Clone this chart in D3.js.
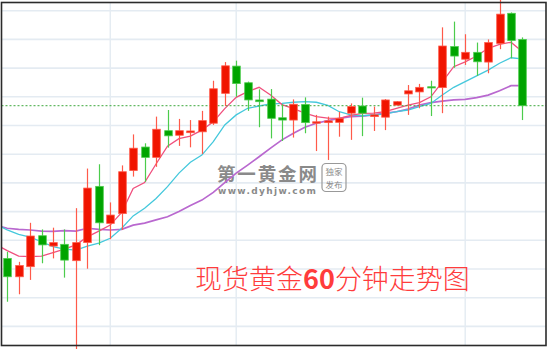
<!DOCTYPE html>
<html>
<head>
<meta charset="utf-8">
<script src="https://d3js.org/d3.v7.min.js"></script>
<style>
  body { margin: 0; background: #fff; }
</style>
</head>
<body>
<script type="text/javascript">
  "use strict";

  // 60 minute candles, oldest first: open, high, low, close
  var opens  = [1213.7,1207.3,1210.8,1221.6,1218.0,1218.6,1212.9,1219.2,1238.8,1225.9,
                1229.3,1244.3,1252.5,1248.9,1258.2,1256.6,1257.5,1257.8,1260.8,1271.2,
                1280.7,1274.9,1268.9,1269.2,1262.7,1261.9,1267.3,1260.8,1261.0,1261.1,
                1264.3,1266.8,1263.1,1262.9,1267.1,1271.0,1271.7,1273.5,1273.2,1287.5,
                1283.1,1285.5,1282.1,1288.6,1299.1,1290.0];
  var highs  = [1216.0,1212.5,1226.1,1223.8,1224.4,1223.8,1231.2,1245.0,1246.5,1233.2,
                1246.1,1256.9,1253.8,1263.1,1265.4,1262.3,1261.9,1265.1,1275.6,1282.1,
                1282.6,1275.3,1272.6,1272.7,1267.4,1269.1,1269.8,1263.7,1263.1,1264.8,
                1267.7,1269.7,1266.6,1269.2,1268.5,1274.1,1274.5,1275.6,1294.2,1296.2,
                1291.8,1288.9,1290.0,1304.1,1299.4,1290.7];
  var lows   = [1198.6,1201.2,1206.2,1212.0,1213.7,1207.0,1181.5,1210.1,1218.3,1220.4,
                1223.6,1242.2,1240.4,1245.6,1252.3,1252.9,1252.4,1250.1,1260.2,1266.8,
                1270.0,1265.1,1259.4,1255.5,1254.6,1255.8,1257.3,1251.1,1248.0,1256.1,
                1255.0,1256.3,1258.1,1258.4,1267.0,1263.7,1266.0,1263.3,1264.3,1280.1,
                1281.1,1277.3,1278.2,1286.6,1283.4,1261.9];
  var closes = [1207.3,1211.2,1221.5,1218.4,1219.2,1213.1,1219.2,1238.2,1226.1,1228.8,
                1243.9,1252.1,1248.9,1258.7,1256.4,1258.2,1258.1,1261.7,1272.8,1280.8,
                1274.6,1268.9,1268.3,1262.5,1261.9,1267.4,1261.0,1261.3,1261.6,1262.5,
                1266.6,1264.3,1263.7,1268.9,1268.3,1272.1,1273.3,1273.1,1287.7,1284.2,
                1285.5,1282.2,1288.9,1298.8,1289.6,1266.9];

  // moving averages, first value belongs to the bar before the first candle
  var ma5  = [1218.6,1216.4,1214.5,1214.3,1214.5,1215.7,1216.9,1218.4,1221.2,1223.2,1225.3,
              1229.7,1238.1,1240.1,1246.6,1252.8,1255.4,1256.3,1258.4,1261.3,1265.9,
              1269.8,1271.8,1273.3,1270.6,1267.3,1265.9,1264.3,1263.1,1262.6,1262.5,
              1263.5,1264.2,1264.3,1264.8,1266.0,1267.1,1268.0,1270.0,1275.2,1280.5,
              1282.2,1284.2,1286.9,1288.3,1289.0,1285.7];
  var ma10 = [1225.7,1223.6,1222.1,1221.1,1219.5,1217.8,1216.9,1216.6,1218.0,1219.0,1220.7,
              1224.2,1228.5,1231.2,1234.6,1238.7,1243.4,1247.2,1249.7,1254.4,1260.2,
              1263.7,1266.0,1266.8,1267.5,1267.7,1268.1,1268.3,1268.1,1267.0,1264.8,
              1263.7,1263.4,1263.7,1264.0,1264.8,1265.4,1266.6,1267.7,1270.6,1273.3,
              1275.3,1277.3,1279.3,1281.7,1283.6,1283.2];
  var ma20 = [1225.2,1224.2,1223.8,1223.6,1223.2,1223.1,1223.4,1223.2,1224.2,1223.8,1223.6,
              1223.8,1225.3,1226.0,1227.1,1228.2,1230.0,1232.1,1234.0,1236.7,1240.1,
              1243.4,1246.2,1249.1,1252.1,1255.0,1257.3,1259.4,1260.8,1261.7,1262.5,
              1263.1,1263.3,1263.7,1264.3,1264.8,1265.7,1267.1,1268.0,1268.5,1268.9,
              1269.1,1269.7,1270.6,1272.1,1273.9,1273.9];

  var priceLines = [1300,1290,1280,1270,1260,1250,1240,1230,1220,1210,1200,1190];
  var dayBreaks  = [9, 20, 40];   // candle index where a new session starts

  var width = 550, height = 349;
  var RED = "#f01400", RED_EDGE = "#ff5a4a", GREEN = "#00a400", GREEN_EDGE = "#4ccc4c";

  var svg = d3.select("body").append("svg")
      .attr("width", width)
      .attr("height", height);

  var x = d3.scaleLinear().domain([0, opens.length - 1]).range([7.2, 522.45]);
  var y = d3.scaleLinear().domain([1182.13, 1303.73]).range([349, 0]);

  svg.append("defs").append("clipPath").attr("id", "plot")
    .append("rect").attr("x", 1.5).attr("y", 2.5).attr("width", 544.5).attr("height", 343);

  /* grid */
  var grid = svg.append("g").attr("stroke", "#e4ebf2");
  grid.selectAll(".h").data(priceLines).enter().append("line")
      .attr("x1", 1.5).attr("x2", 546)
      .attr("y1", function(d) { return y(d); })
      .attr("y2", function(d) { return y(d); })
      .attr("stroke-width", 1.6);
  grid.selectAll(".v").data(dayBreaks).enter().append("line")
      .attr("y1", 2.5).attr("y2", 345.5)
      .attr("x1", function(d) { return x(d); })
      .attr("x2", function(d) { return x(d); })
      .attr("stroke-width", 1.4);

  /* watermark */
  var wm = svg.append("g").attr("fill", "#8a8a8a");
  wm.append("text")
      .attr("x", 217).attr("y", 180.5)
      .style("font-family", "'Noto Sans CJK SC'")
      .style("font-weight", "bold")
      .style("font-size", "18.5px")
      .attr("textLength", 100)
      .text("第一黄金网");
  wm.append("text")
      .attr("x", 218).attr("y", 194.3)
      .style("font-family", "'DejaVu Sans'")
      .style("font-weight", "bold")
      .style("font-size", "9px")
      .attr("textLength", 98)
      .text("www.dyhjw.com");
  wm.append("rect")
      .attr("x", 322).attr("y", 163.5).attr("width", 24).attr("height", 28).attr("rx", 4)
      .attr("fill", "none").attr("stroke", "#999").attr("stroke-width", 1.2);
  wm.append("text")
      .attr("x", 334).attr("y", 175.3)
      .attr("text-anchor", "middle")
      .style("font-family", "'Noto Sans CJK SC'")
      .style("font-size", "8.5px")
      .text("独家");
  wm.append("text")
      .attr("x", 334).attr("y", 188)
      .attr("text-anchor", "middle")
      .style("font-family", "'Noto Sans CJK SC'")
      .style("font-size", "8.5px")
      .text("发布");

  /* moving averages */
  var lineGen = function(vals) {
    return d3.line()
      .x(function(d, i) { return x(i - 1); })
      .y(function(d) { return y(d); })(vals);
  };
  var maLayer = svg.append("g").attr("clip-path", "url(#plot)").attr("fill", "none");
  maLayer.append("path").attr("d", lineGen(ma20)).attr("stroke", "#b968cf").attr("stroke-width", 1.7);
  maLayer.append("path").attr("d", lineGen(ma10)).attr("stroke", "#45c8dc").attr("stroke-width", 1.3);
  maLayer.append("path").attr("d", lineGen(ma5)).attr("stroke", "#f0507e").attr("stroke-width", 1.3);

  /* current price */
  svg.append("line")
      .attr("x1", 1.5).attr("x2", 546)
      .attr("y1", y(closes[closes.length - 1]))
      .attr("y2", y(closes[closes.length - 1]))
      .attr("stroke", "#3aa83a")
      .attr("stroke-width", 1)
      .attr("stroke-dasharray", "2,2");

  /* candles */
  var bars = d3.range(opens.length).map(function(i) {
    return { i: i, o: opens[i], h: highs[i], l: lows[i], c: closes[i] };
  });
  var candle = svg.append("g").selectAll("g").data(bars).enter().append("g");
  candle.append("line")
      .attr("x1", function(d) { return Math.round(x(d.i)) + 0.5; })
      .attr("x2", function(d) { return Math.round(x(d.i)) + 0.5; })
      .attr("y1", function(d) { return y(d.h); })
      .attr("y2", function(d) { return y(d.l); })
      .attr("stroke", function(d) { return d.c >= d.o ? RED_EDGE : GREEN_EDGE; })
      .attr("stroke-width", 1.2);
  candle.append("rect")
      .attr("x", function(d) { return Math.round(x(d.i)) + 0.5 - 3.8; })
      .attr("width", 7.6)
      .attr("y", function(d) { return y(Math.max(d.o, d.c)); })
      .attr("height", function(d) { return Math.max(1.2, Math.abs(y(d.o) - y(d.c))); })
      .attr("fill", function(d) { return d.c >= d.o ? RED : GREEN; })
      .attr("stroke", function(d) { return d.c >= d.o ? RED_EDGE : GREEN_EDGE; })
      .attr("stroke-width", 0.8);

  /* frame */
  svg.append("rect")
      .attr("x", 1.5).attr("y", 2.5).attr("width", 544.5).attr("height", 343)
      .attr("fill", "none").attr("stroke", "#2b2b2b").attr("stroke-width", 1.6);

  /* caption */
  var cap = svg.append("text")
      .attr("x", 195).attr("y", 289)
      .attr("fill", "#ff3c3c")
      .style("font-family", "'Noto Sans CJK SC'")
      .style("font-weight", "300")
      .style("font-size", "27px");
  cap.append("tspan").text("现货黄金");
  cap.append("tspan").style("font-weight", "bold").text("60");
  cap.append("tspan").text("分钟走势图");
</script>
</body>
</html>
